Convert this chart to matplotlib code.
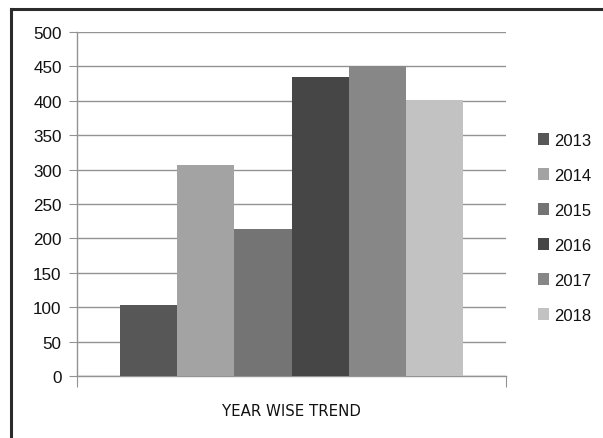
import matplotlib
matplotlib.use("Agg")
import matplotlib.pyplot as plt
from matplotlib.lines import Line2D

plt.rcParams['font.family'] = ['Liberation Sans', 'DejaVu Sans']

# yearly values
years = ['2013', '2014', '2015', '2016', '2017', '2018']
values = [103, 306, 213, 434, 450, 401]
colors = ['#575757', '#a3a3a3', '#747474', '#464646', '#878787', '#c2c2c2']

yticks = [0, 50, 100, 150, 200, 250, 300, 350, 400, 450, 500]
xlabel = 'YEAR WISE TREND'

fig = plt.figure(figsize=(6.03, 4.39), dpi=100)
ax = fig.add_axes([77/603, 62/439, 429/603, 344/439])

bw = 0.8/len(years)
for i, (yr, v, c) in enumerate(zip(years, values, colors)):
    ax.bar(0.1 + bw*i, v, width=bw, align='edge', color=c, label=yr, zorder=3)

ax.set_xlim(0, 1)
ax.set_ylim(0, 500)
ax.set_yticks(yticks)
ax.set_yticklabels([str(t) for t in yticks], fontsize=12.3, color='#111111')
ax.yaxis.grid(True, color='#939393', lw=1.0, zorder=0)
ax.tick_params(axis='y', length=6, color='#939393', pad=5)
ax.set_xticks([0, 1])
ax.set_xticklabels(['', ''])
ax.tick_params(axis='x', length=8, color='#939393', direction='out')
for s in ['top', 'right']:
    ax.spines[s].set_visible(False)
for s in ['left', 'bottom']:
    ax.spines[s].set_color('#939393')
    ax.spines[s].set_linewidth(1.0)
ax.set_xlabel(xlabel, fontsize=10.8, labelpad=8, color='#111111',
              family='Liberation Sans Narrow')

fig.legend(loc='upper left', bbox_to_anchor=(531/603, 1 - 127/439),
           frameon=False, fontsize=12, handlelength=0.7, handleheight=0.7,
           handletextpad=0.3, labelspacing=1.2, borderaxespad=0,
           labelcolor='#111111')

# outer frame (left and top edges)
fig.add_artist(Line2D([11/603, 11/603], [0, 1 - 10/439], color='#2b2b2b', lw=2.2))
fig.add_artist(Line2D([11/603, 1], [1 - 10/439, 1 - 10/439], color='#2b2b2b', lw=2.2))

fig.savefig('out.png', dpi=100, facecolor='white')
